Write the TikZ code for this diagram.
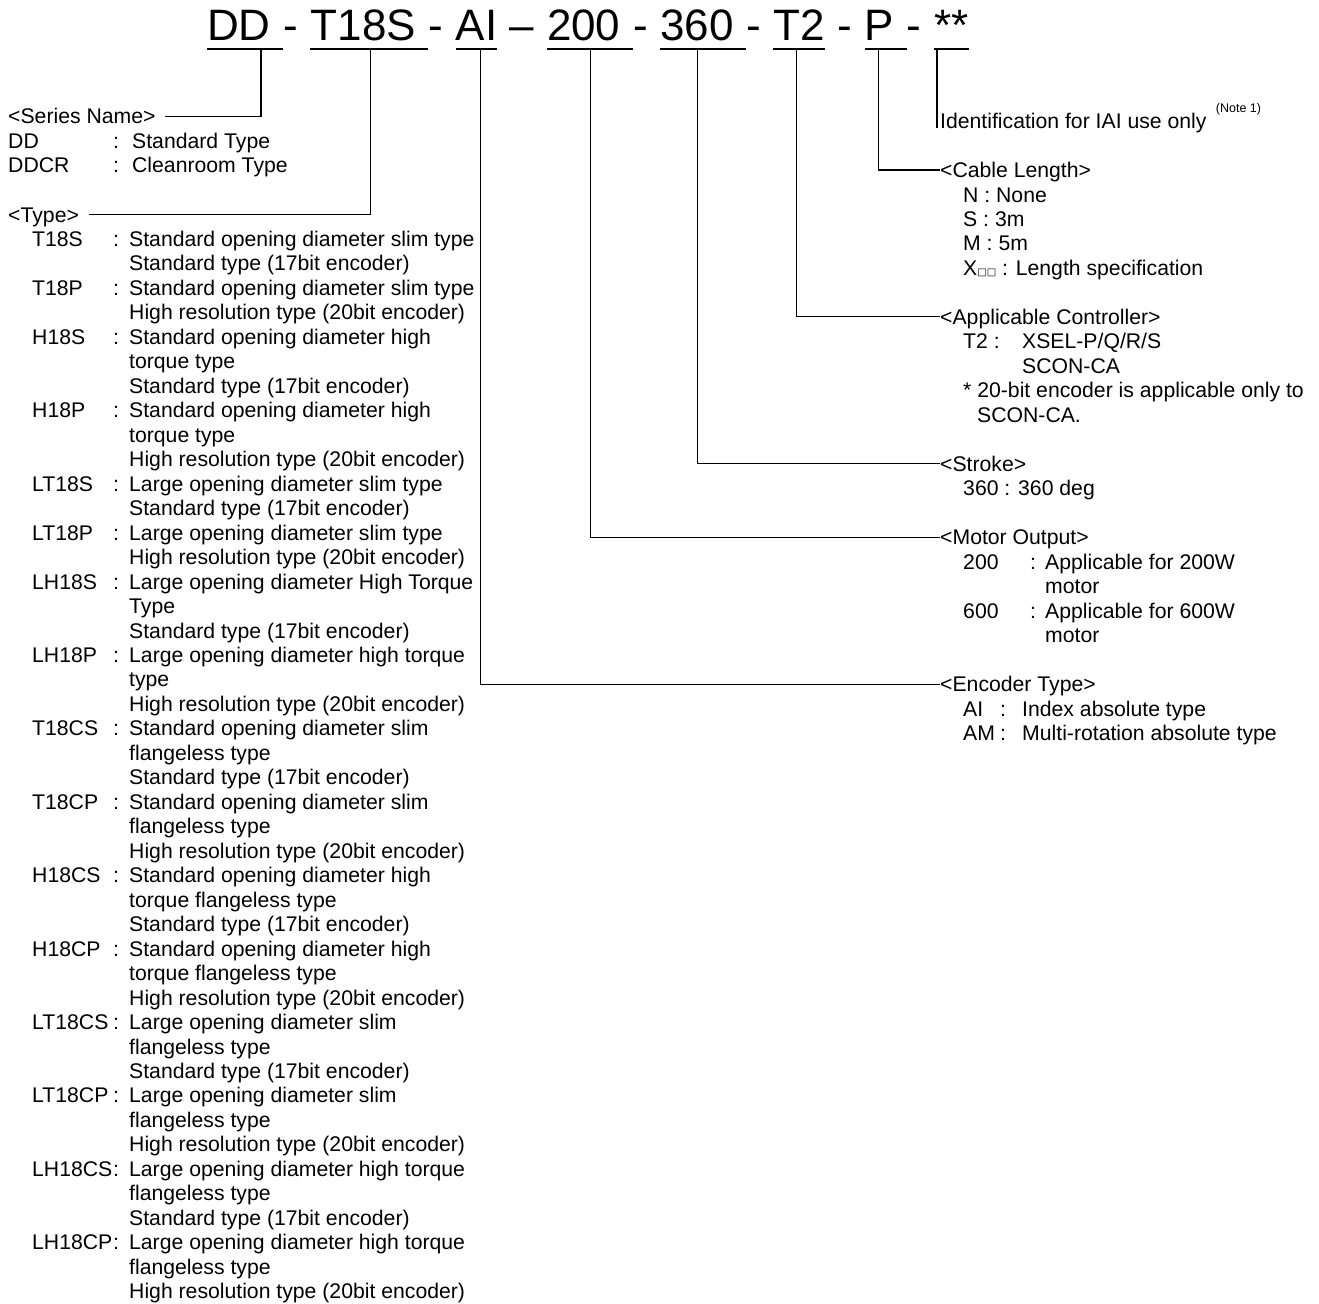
\documentclass[tikz,border=0pt]{standalone}
\usepackage{fontspec}
\setmainfont{Liberation Sans}
\newfontfamily\boxfont{DejaVu Sans}
\usepackage{tikz}

\begin{document}
\begin{tikzpicture}[x=1pt, y=-1pt, code/.style={anchor=base west, inner sep=0, font=\fontsize{44}{50}\selectfont}, head/.style={anchor=base west, inner sep=0, text height=15pt, text depth=0pt, font=\fontsize{21.2}{24.47}\selectfont}, entry/.style={anchor=base west, inner sep=0, font=\fontsize{21.2}{24.47}\selectfont}, note/.style={anchor=base west, inner sep=0, font=\fontsize{12.5}{14}\selectfont}, ul/.style={line width=2.8pt}, lead/.style={line width=1.2pt}]
            \useasboundingbox (0,0) rectangle (1319,1303);
            % model code
            \node[code] (dd) at (207,41) {DD\ \null};
            \node[code] (s1) at (dd.base east) {-\ \null};
            \node[code] (t18s) at (s1.base east) {T18S\ \null};
            \node[code] (s2) at (t18s.base east) {-\ \null};
            \node[code] (ai) at (s2.base east) {AI};
            \node[code] (s3) at (ai.base east) {\ --\ \null};
            \node[code] (n200) at (s3.base east) {200\ \null};
            \node[code] (s4) at (n200.base east) {-\ \null};
            \node[code] (n360) at (s4.base east) {360\ \null};
            \node[code] (s5) at (n360.base east) {-\ \null};
            \node[code] (t2) at (s5.base east) {T2};
            \node[code] (s6) at (t2.base east) {\ -\ \null};
            \node[code] (p) at (s6.base east) {P\ \null};
            \node[code] (s7) at (p.base east) {-\ \null};
            \node[code] (star) at (s7.base east) {**};
            % underlines
            \draw[ul] ([yshift=-8pt]dd.base west) -- ([yshift=-8pt]dd.base east);
            \draw[ul] ([yshift=-8pt]t18s.base west) -- ([yshift=-8pt]t18s.base east);
            \draw[ul] ([yshift=-8pt]ai.base west) -- ([yshift=-8pt]ai.base east);
            \draw[ul] ([yshift=-8pt]n200.base west) -- ([yshift=-8pt]n200.base east);
            \draw[ul] ([yshift=-8pt]n360.base west) -- ([yshift=-8pt]n360.base east);
            \draw[ul] ([yshift=-8pt]t2.base west) -- ([yshift=-8pt]t2.base east);
            \draw[ul] ([yshift=-8pt]p.base west) -- ([yshift=-8pt]p.base east);
            \draw[ul] ([yshift=-8pt]star.base west) -- ([yshift=-8pt]star.base east);
            % left column
            \node[head] (series) at (8,124) {<Series Name>};
            \node[entry] (serieslist) at (8,148.5) {\begin{tabular}[t]{@{}p{105pt}@{}p{19pt}@{}l@{}}
                DD & : & Standard Type\\
                DDCR & : & Cleanroom Type
            \end{tabular}};
            \node[head] (type) at (8,222) {<Type>};
            \node[entry] (typelist) at (32,246.5) {\begin{tabular}[t]{@{}p{81pt}@{}p{16pt}@{}l@{}}
                T18S & : & Standard opening diameter slim type\\
                 & & Standard type (17bit encoder)\\
                T18P & : & Standard opening diameter slim type\\
                 & & High resolution type (20bit encoder)\\
                H18S & : & Standard opening diameter high\\
                 & & torque type\\
                 & & Standard type (17bit encoder)\\
                H18P & : & Standard opening diameter high\\
                 & & torque type\\
                 & & High resolution type (20bit encoder)\\
                LT18S & : & Large opening diameter slim type\\
                 & & Standard type (17bit encoder)\\
                LT18P & : & Large opening diameter slim type\\
                 & & High resolution type (20bit encoder)\\
                LH18S & : & Large opening diameter High Torque\\
                 & & Type\\
                 & & Standard type (17bit encoder)\\
                LH18P & : & Large opening diameter high torque\\
                 & & type\\
                 & & High resolution type (20bit encoder)\\
                T18CS & : & Standard opening diameter slim\\
                 & & flangeless type\\
                 & & Standard type (17bit encoder)\\
                T18CP & : & Standard opening diameter slim\\
                 & & flangeless type\\
                 & & High resolution type (20bit encoder)\\
                H18CS & : & Standard opening diameter high\\
                 & & torque flangeless type\\
                 & & Standard type (17bit encoder)\\
                H18CP & : & Standard opening diameter high\\
                 & & torque flangeless type\\
                 & & High resolution type (20bit encoder)\\
                LT18CS & : & Large opening diameter slim\\
                 & & flangeless type\\
                 & & Standard type (17bit encoder)\\
                LT18CP & : & Large opening diameter slim\\
                 & & flangeless type\\
                 & & High resolution type (20bit encoder)\\
                LH18CS & : & Large opening diameter high torque\\
                 & & flangeless type\\
                 & & Standard type (17bit encoder)\\
                LH18CP & : & Large opening diameter high torque\\
                 & & flangeless type\\
                 & & High resolution type (20bit encoder)
            \end{tabular}};
            % right column
            \node[entry] (ident) at (940,128.5) {Identification for IAI use only};
            \node[note] (note1) at ([xshift=9pt, yshift=15.5pt]ident.base east) {(Note 1)};
            \node[head] (cable) at (940,177.5) {<Cable Length>};
            \node[entry] (cablelist) at (963,202) {\begin{tabular}[t]{@{}l@{}}
                N : None\\
                S : 3m\\
                M : 5m\\
                X{\boxfont\fontsize{10}{10}\selectfont □□} : Length specification
            \end{tabular}};
            \node[head] (ctrl) at (940,324.3) {<Applicable Controller>};
            \node[entry] (ctrllist) at (963,348.8) {\begin{tabular}[t]{@{}p{59pt}@{}l@{}}
                T2 : & XSEL-P/Q/R/S\\
                 & SCON-CA\\
                \multicolumn{2}{@{}l@{}}{* 20-bit encoder is applicable only to}\\
                \multicolumn{2}{@{}l@{}}{\hspace{14pt}SCON-CA.}
            \end{tabular}};
            \node[head] (stroke) at (940,471) {<Stroke>};
            \node[entry] (strokelist) at (963,495.5) {360 : 360 deg};
            \node[head] (motor) at (940,544.7) {<Motor Output>};
            \node[entry] (motorlist) at (963,569.2) {\begin{tabular}[t]{@{}p{67pt}@{}p{15pt}@{}l@{}}
                200 & : & Applicable for 200W\\
                 & & motor\\
                600 & : & Applicable for 600W\\
                 & & motor
            \end{tabular}};
            \node[head] (encoder) at (940,691.6) {<Encoder Type>};
            \node[entry] (enclist) at (963,716) {\begin{tabular}[t]{@{}p{37pt}@{}p{22pt}@{}l@{}}
                AI & : & Index absolute type\\
                AM & : & Multi-rotation absolute type
            \end{tabular}};
            % leaders
            \coordinate (dddrop) at ([xshift=54pt, yshift=-8pt]dd.base west);
            \coordinate (t18sdrop) at ([xshift=1pt, yshift=-8pt]t18s.base);
            \coordinate (aidrop) at ([xshift=4pt, yshift=-8pt]ai.base);
            \coordinate (n200drop) at ([xshift=1pt, yshift=-8pt]n200.base);
            \coordinate (n360drop) at ([xshift=-6pt, yshift=-8pt]n360.base);
            \coordinate (t2drop) at ([xshift=-3pt, yshift=-8pt]t2.base);
            \coordinate (pdrop) at ([xshift=-7pt, yshift=-8pt]p.base);
            \coordinate (stardrop) at ([xshift=-3pt, yshift=-8pt]ident.base west |- star.base);
            \draw[lead] (dddrop) |- ([xshift=9pt]series.east);
            \draw[lead] (t18sdrop) |- ([xshift=10pt]type.east);
            \draw[lead] (stardrop) -- (stardrop |- ident.base west);
            \draw[lead] (pdrop) |- (cable.west);
            \draw[lead] (t2drop) |- (ctrl.west);
            \draw[lead] (n360drop) |- (stroke.west);
            \draw[lead] (n200drop) |- (motor.west);
            \draw[lead] (aidrop) |- (encoder.west);
        \end{tikzpicture}
\end{document}
